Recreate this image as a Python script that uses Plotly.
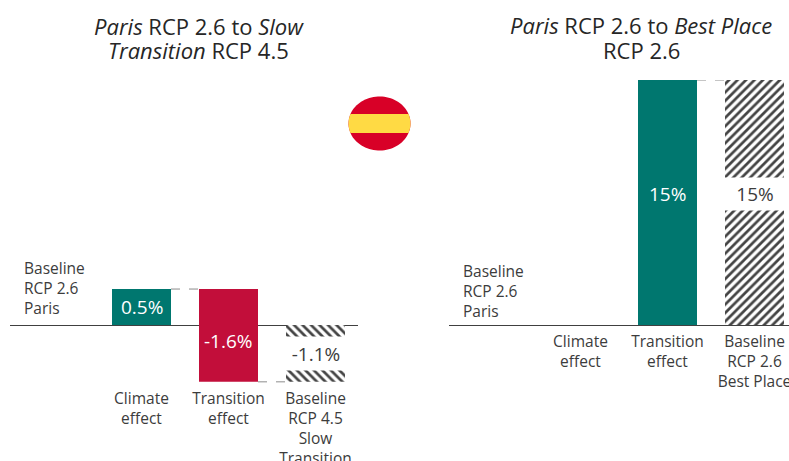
import numpy as np
import plotly.graph_objects as go

W, H = 789, 461
FONT = "Open Sans"
TEXT = "#3c3c3c"
TEAL = "#00776f"
RED = "#c20e3a"
GREY = "#8c8c8c"

# Left panel. Heights follow the drawing, which is not strictly to scale with the labels.
left_cats = ["Climate<br>effect", "Transition<br>effect", "Baseline<br>RCP 4.5<br>Slow<br>Transition"]
left_base = [0, 0.62, 0]
left_size = [0.62, -1.6, -0.98]
left_text = ["0.5%", "-1.6%", "-1.1%"]
left_colors = [TEAL, RED, "white"]

# Right panel.
right_cats = ["Climate<br>effect", "Transition<br>effect", "Baseline<br>RCP 2.6<br>Best Place"]
right_base = [0, 0, 0]
right_size = [0, 15, 15]
right_text = ["", "15%", "15%"]
right_colors = [TEAL, TEAL, "white"]

def px(x): return x / W
def py(y): return 1 - y / H

fig = go.Figure()
BW = 59 / 87

def bars(size, base, colors, shape, xa, ya):
    fig.add_trace(go.Bar(
        x=list(range(3)), y=size, base=base, width=BW, xaxis=xa, yaxis=ya,
        marker=dict(color=colors, line_width=0,
                    pattern=dict(shape=["", "", shape], size=6, solidity=0.45, fgopacity=1,
                                 fgcolor="black", bgcolor="white")),
        hoverinfo="skip", showlegend=False))

bars(left_size, left_base, left_colors, "\\", "x", "y")
bars(right_size, right_base, right_colors, "/", "x2", "y2")

def connector(xa, ya, i, y):
    fig.add_shape(type="line", xref=xa, yref=ya, x0=i + BW / 2, x1=i + 1 - BW / 2, y0=y, y1=y,
                  line=dict(color=GREY, width=1, dash="dash"))

connector("x", "y", 0, left_size[0])
connector("x", "y", 1, left_base[1] + left_size[1])
connector("x2", "y2", 1, right_size[1])

def axis(domain, rng, cats):
    return dict(domain=domain, range=rng, tickmode="array", tickvals=list(range(3)), ticktext=cats,
                showgrid=False, zeroline=False, showline=False, ticks="", ticklen=0,
                ticklabeloverflow="allow",
                tickfont=dict(family=FONT, size=15.5, color=TEXT), tickangle=0, automargin=False)

def yaxis(domain, rng):
    return dict(domain=domain, range=rng, showticklabels=False, showgrid=False, ticks="",
                zeroline=True, zerolinecolor="#404040", zerolinewidth=1.3, showline=False)

# left: zero at pixel 325, 58 px per unit; right: zero at 325, 245/15 px per unit
fig.update_layout(
    xaxis=axis([px(10), px(358)], [-(141.5 - 10) / 87, (358 - 141.5) / 87], left_cats),
    yaxis=yaxis([py(387), py(270)], [-(387 - 325) / 58, (325 - 270) / 58]),
    xaxis2=dict(axis([px(449), px(789)], [-(580.5 - 449) / 87, (789 - 580.5) / 87], right_cats), anchor="y2"),
    yaxis2=dict(yaxis([py(330), py(80)], [-5 / (245 / 15), 15]), anchor="x2"),
)

annos = []
VAL = 19
annos.append(dict(x=0, y=0.31, xref="x", yref="y", text=left_text[0], showarrow=False,
                  font=dict(family=FONT, size=VAL, color="white")))
annos.append(dict(x=1, y=-0.28, xref="x", yref="y", text=left_text[1], showarrow=False,
                  font=dict(family=FONT, size=VAL, color="white")))
annos.append(dict(x=2, y=-0.49, xref="x", yref="y", text=left_text[2], showarrow=False,
                  bgcolor="white", width=70, height=31, font=dict(family=FONT, size=VAL, color=TEXT)))
annos.append(dict(x=1, y=8.0, xref="x2", yref="y2", text=right_text[1], showarrow=False,
                  font=dict(family=FONT, size=VAL, color="white")))
annos.append(dict(x=2, y=8.0, xref="x2", yref="y2", text=right_text[2], showarrow=False,
                  bgcolor="white", width=62, height=30, font=dict(family=FONT, size=VAL, color=TEXT)))
for x, y, t in [(22, 288, "Baseline<br>RCP 2.6<br>Paris"), (461, 291, "Baseline<br>RCP 2.6<br>Paris")]:
    annos.append(dict(x=px(x), y=py(y), xref="paper", yref="paper", xanchor="left", yanchor="middle",
                      align="left", text=t, showarrow=False, font=dict(family=FONT, size=15.5, color=TEXT)))
# Each title line sits on its own: the reference's leading is tighter than plotly's line height
for x, y, t in [(199, 26, "<i>Paris</i> RCP 2.6 to <i>Slow</i>"),
                (199, 50, "<i>Transition</i> RCP 4.5"),
                (641, 25, "<i>Paris</i> RCP 2.6 to <i>Best Place</i>"),
                (641, 50, "RCP 2.6")]:
    annos.append(dict(x=px(x), y=py(y), xref="paper", yref="paper", xanchor="center", yanchor="middle",
                      align="center", text=t, showarrow=False, font=dict(family=FONT, size=22, color="#262626")))

# Spanish flag badge
cx, cy, rx, ry = 379.5, 123.5, 31, 27
def poly(t):
    return "M" + "L".join(f"{px(cx + rx * np.cos(a))},{py(cy + ry * np.sin(a))}" for a in t) + "Z"
fig.add_shape(type="path", xref="paper", yref="paper", path=poly(np.linspace(0, 2 * np.pi, 90)),
              fillcolor="#d80027", line_width=0)
yt, yb = 114, 133
a_t, a_b = np.arcsin((yt - cy) / ry), np.arcsin((yb - cy) / ry)
band = np.r_[np.linspace(a_t, a_b, 20), np.linspace(np.pi - a_b, np.pi - a_t, 20)]
fig.add_shape(type="path", xref="paper", yref="paper", path=poly(band), fillcolor="#ffda44", line_width=0)

fig.update_layout(width=W, height=H, margin=dict(l=0, r=0, t=0, b=0), autosize=False,
                  paper_bgcolor="white", plot_bgcolor="white", annotations=annos, barmode="overlay",
                  font=dict(family=FONT))
fig.write_html("out.html", config=dict(displayModeBar=False),
               post_script="document.body.style.margin='0';document.body.style.overflow='hidden';")
